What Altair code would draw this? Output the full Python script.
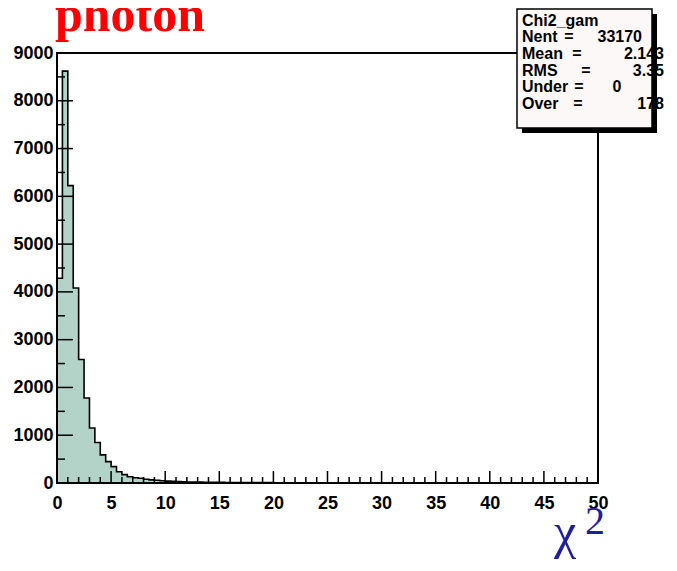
##Packages
import pandas as pd
import altair as alt

##--Data
bin_width = 0.5
counts = [4285, 8620, 6225, 4080, 2584, 1780, 1150, 847, 588, 447,
          342, 237, 175, 132, 110, 98, 80, 66, 56, 47,
          39, 33, 29, 25, 22, 20, 18, 16, 15, 14,
          13, 12, 11, 10, 10, 9, 8, 8, 7, 7,
          6, 6, 6, 5, 5, 5, 5, 4, 4, 4,
          4, 4, 4, 3, 3, 3, 3, 3, 3, 3,
          3, 3, 3, 2, 2, 3, 2, 2, 2, 2,
          2, 2, 2, 2, 2, 2, 2, 1, 2, 2,
          2, 1, 2, 1, 2, 1, 1, 2, 1, 1,
          1, 1, 2, 1, 1, 1, 1, 1, 1, 1]

x_labels = [0, 5, 10, 15, 20, 25, 30, 35, 40, 45, 50]
x_minor = [1, 2, 3, 4, 6, 7, 8, 9, 11, 12, 13, 14, 16, 17, 18, 19,
           21, 22, 23, 24, 26, 27, 28, 29, 31, 32, 33, 34, 36, 37, 38, 39,
           41, 42, 43, 44, 46, 47, 48, 49]
y_labels = [0, 1000, 2000, 3000, 4000, 5000, 6000, 7000, 8000, 9000]
y_minor = [500, 1500, 2500, 3500, 4500, 5500, 6500, 7500, 8500]

hist_name = "Chi2_gam"
stat_labels = ["Nent", "Mean", "RMS", "Under", "Over"]
stat_values = ["33170", "2.143", "3.35", "0", "178"]

title_text = "photon"
xtitle_main = "\u03c7"
xtitle_sup = "2"

##--Layout
W, H = 541, 430
FILL = "#b4d3c8"
BLUE = "#1e1ea0"

xs = alt.Scale(domain=[0, 50], nice=False, zero=False)
ys = alt.Scale(domain=[0, 9000], nice=False)

axis_style = dict(labelFont="Liberation Sans", labelFontWeight="bold", labelFontSize=18,
                  labelColor="black", labelFlush=False, labelOverlap=False, format="d",
                  ticks=False, domain=False, grid=False)
x_axis = alt.Axis(values=x_labels, labelPadding=11, **axis_style)
y_axis = alt.Axis(values=y_labels, labelPadding=4, **axis_style)


def X(field):
    return alt.X(field, scale=xs, axis=x_axis, title=None)


def Y(field):
    return alt.Y(field, scale=ys, axis=y_axis, title=None)


def label(txt, x, y, size, color="black", font="Liberation Sans", weight="bold",
          align="left", baseline="middle"):
    return alt.Chart(pd.DataFrame({"t": [txt]})).mark_text(
        font=font, fontSize=size, fontWeight=weight, color=color,
        align=align, baseline=baseline
    ).encode(x=alt.value(x), y=alt.value(y), text="t:N")


def box(x, x2, y, y2, **kw):
    return alt.Chart(pd.DataFrame({"k": [0]})).mark_rect(**kw).encode(
        x=alt.value(x), x2=alt.value(x2), y=alt.value(y), y2=alt.value(y2))


##--Histogram
edges = [i * bin_width for i in range(len(counts))]
hist = pd.DataFrame({"x": edges + [50], "n": counts + [counts[-1]]})

fill = alt.Chart(hist).mark_area(interpolate="step-after", color=FILL).encode(X("x:Q"), Y("n:Q"))
outline = alt.Chart(hist).mark_line(interpolate="step-after", color="black",
                                    strokeWidth=1.6).encode(X("x:Q"), Y("n:Q"))

##--ticks drawn inside the frame (ROOT style)
ytick_major = alt.Chart(pd.DataFrame({"y": y_labels})).mark_rule(color="black", strokeWidth=1.5).encode(
    Y("y:Q"), x=alt.value(0), x2=alt.value(16))
ytick_minor = alt.Chart(pd.DataFrame({"y": y_minor})).mark_rule(color="black", strokeWidth=1.5).encode(
    Y("y:Q"), x=alt.value(0), x2=alt.value(8))
xtick_major = alt.Chart(pd.DataFrame({"x": x_labels})).mark_rule(color="black", strokeWidth=1.5).encode(
    X("x:Q"), y=alt.value(H), y2=alt.value(H - 12))
xtick_minor = alt.Chart(pd.DataFrame({"x": x_minor})).mark_rule(color="black", strokeWidth=1.5).encode(
    X("x:Q"), y=alt.value(H), y2=alt.value(H - 6))

frame = box(0, W, 0, H, fillOpacity=0, stroke="black", strokeWidth=2)

##--stats box
stats = [box(460, 595, -44, 75, fill="#fdf8f8"),
         label(hist_name, 465, -32, 16)]
row_y = [-16, 1, 18, 34, 51]
eq_x = [512, 520, 529, 522, 521]
val_x = [585, 607, 607, 560, 607]
val_align = ["right", "right", "right", "center", "right"]
for i in range(len(stat_labels)):
    stats.append(label(stat_labels[i], 465, row_y[i], 16))
    stats.append(label("=", eq_x[i], row_y[i], 16, align="center"))
    stats.append(label(stat_values[i], val_x[i], row_y[i], 16, align=val_align[i]))
stats += [box(460, 595, -44, 75, fillOpacity=0, stroke="black", strokeWidth=1.5),
          box(595, 600, -39, 80, fill="black"),
          box(465, 600, 75, 80, fill="black")]

##--titles
titles = [label(title_text, -2, -22, 50, color="#ff0000", font="Liberation Serif",
                baseline="alphabetic"),
          label(xtitle_main, 497, 495, 50, color=BLUE, font="Liberation Serif",
                weight="normal", baseline="alphabetic"),
          label(xtitle_sup, 528, 481, 40, color=BLUE, font="Liberation Serif",
                weight="normal", baseline="alphabetic")]

chart = alt.layer(fill, outline, ytick_major, ytick_minor, xtick_major, xtick_minor,
                  frame, *stats, *titles
        ).properties(width=W, height=H,
                     padding={"left": 49, "top": 45, "right": 71, "bottom": 79},
                     autosize=alt.AutoSizeParams(type="none")
        ).configure_view(strokeWidth=0)

chart.save("out.html", embed_options={"renderer": "svg", "actions": False})
